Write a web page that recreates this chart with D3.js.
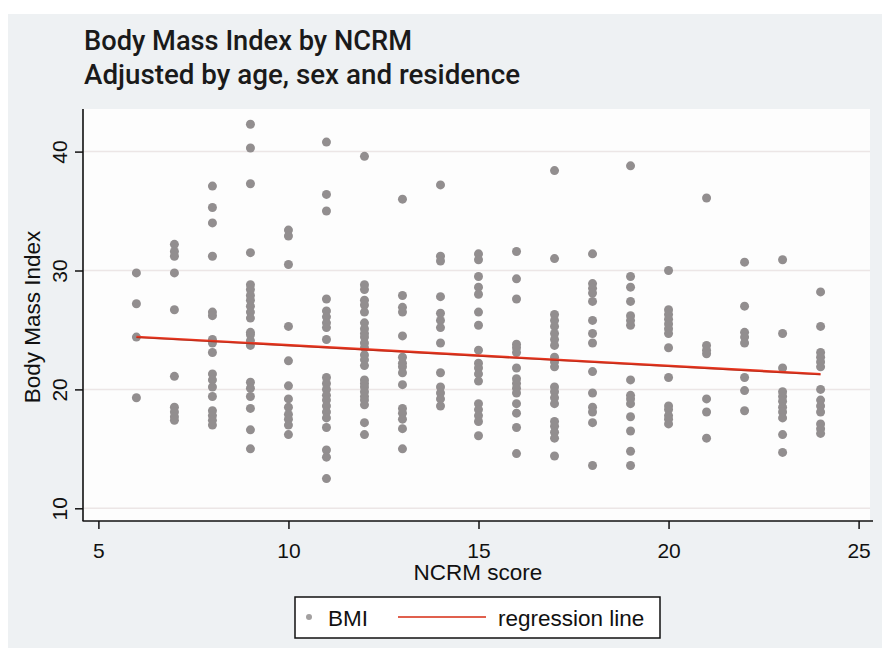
<!DOCTYPE html>
<html>
<head>
<meta charset="utf-8">
<script src="https://cdn.jsdelivr.net/npm/d3@7/dist/d3.min.js"></script>
<style>
  html, body { margin: 0; padding: 0; background: #ffffff; }
  svg { display: block; }
</style>
</head>
<body>
<svg id="chart" width="882" height="659"></svg>
<script>
// NCRM score categories (x positions of the point columns)
const ncrmScores = [6, 7, 8, 9, 10, 11, 12, 13, 14, 15, 16, 17, 18, 19, 20, 21, 22, 23, 24];

// Adjusted BMI observations, one list per NCRM score above
const bmiByScore = [
  [29.8, 27.2, 24.4, 19.3],
  [32.2, 31.6, 31.2, 29.8, 26.7, 21.1, 18.5, 18.1, 17.7, 17.4],
  [37.1, 35.3, 34.0, 31.2, 26.5, 26.2, 24.2, 23.9, 23.1, 21.3, 20.8, 20.2, 19.4, 18.2, 17.8, 17.4, 17.0],
  [42.3, 40.3, 37.3, 31.5, 28.8, 28.4, 27.9, 27.5, 27.0, 26.5, 26.0, 24.8, 24.6, 24.1, 23.7, 20.6, 20.1, 19.4, 18.4, 16.6, 15.0],
  [33.4, 32.9, 30.5, 25.3, 22.4, 20.3, 19.2, 18.5, 17.9, 17.5, 17.0, 16.2],
  [40.8, 36.4, 35.0, 27.6, 26.6, 26.1, 25.6, 25.2, 24.2, 21.0, 20.5, 20.0, 19.5, 19.1, 18.6, 18.1, 17.6, 16.8, 14.9, 14.3, 12.5],
  [39.6, 28.8, 28.4, 27.5, 27.1, 26.5, 25.6, 25.1, 24.7, 24.4, 23.9, 23.5, 22.9, 22.5, 22.0, 20.8, 20.5, 20.2, 19.8, 19.4, 19.1, 18.7, 17.2, 16.2],
  [36.0, 27.9, 26.9, 26.5, 24.5, 22.7, 22.2, 21.9, 21.4, 20.4, 18.4, 18.0, 17.5, 16.7, 15.0],
  [37.2, 31.2, 30.8, 27.8, 26.4, 25.8, 25.2, 23.9, 21.4, 20.2, 19.7, 19.2, 18.6],
  [31.4, 30.9, 29.5, 28.6, 28.0, 26.5, 25.4, 23.3, 22.2, 21.8, 21.3, 20.7, 18.8, 18.3, 17.8, 17.3, 16.1],
  [31.6, 29.3, 27.6, 23.8, 23.5, 23.1, 21.8, 20.9, 20.5, 20.1, 19.7, 18.8, 18.0, 16.8, 14.6],
  [38.4, 31.0, 26.3, 25.8, 25.3, 24.7, 24.2, 23.7, 22.7, 22.3, 21.9, 20.2, 19.8, 19.3, 18.8, 17.3, 16.9, 16.4, 15.9, 14.4],
  [31.4, 28.9, 28.5, 28.1, 27.4, 25.8, 24.7, 23.9, 21.5, 19.7, 18.5, 18.1, 17.2, 13.6],
  [38.8, 29.5, 28.6, 27.4, 26.2, 25.8, 25.4, 20.8, 19.5, 19.2, 18.8, 17.7, 16.5, 14.8, 13.6],
  [30.0, 26.7, 26.3, 25.9, 25.5, 25.1, 24.7, 23.5, 21.0, 18.6, 18.3, 17.8, 17.5, 17.1],
  [36.1, 23.7, 23.3, 23.0, 19.2, 18.1, 15.9],
  [30.7, 27.0, 24.8, 24.4, 23.9, 21.0, 19.9, 18.2],
  [30.9, 24.7, 21.8, 19.8, 19.4, 19.0, 18.5, 18.1, 17.6, 16.2, 14.7],
  [28.2, 25.3, 23.1, 22.7, 22.3, 21.9, 20.0, 19.1, 18.6, 18.1, 17.1, 16.7, 16.3]
];

// Fitted regression line: BMI = intercept + slope * NCRM
const regIntercept = 25.46;
const regSlope = -0.174;
const regRange = [6, 24];

// Axis ticks
const xTicks = [5, 10, 15, 20, 25];
const yTicks = [10, 20, 30, 40];

// Texts
const titleLines = ["Body Mass Index by NCRM", "Adjusted by age, sex and residence"];
const xTitle = "NCRM score";
const yTitle = "Body Mass Index";
const legendLabels = ["BMI", "regression line"];

const svg = d3.select("#chart");
const axisFont = "'Liberation Sans', Arial, Helvetica, sans-serif";

// Outer panel and plot region
const plot = { left: 83, right: 870, top: 109, bottom: 521 };

svg.append("rect")
  .attr("x", 8).attr("y", 14).attr("width", 874).attr("height", 634)
  .attr("fill", "#eef1f3");

svg.append("rect")
  .attr("x", plot.left).attr("y", plot.top)
  .attr("width", plot.right - plot.left).attr("height", plot.bottom - plot.top)
  .attr("fill", "#fdfdfd");

// Scales
const x = d3.scaleLinear().domain([5, 25]).range([98.4, 858.6]);
const y = d3.scaleLinear().domain([10, 40]).range([508.3, 151.6]);

// Horizontal grid lines
svg.append("g")
  .selectAll("line")
  .data(yTicks)
  .join("line")
  .attr("x1", plot.left + 1).attr("x2", plot.right)
  .attr("y1", d => y(d)).attr("y2", d => y(d))
  .attr("stroke", "#ece6e6").attr("stroke-width", 1.5);

// Points
const points = ncrmScores.flatMap((s, i) => bmiByScore[i].map(v => ({ s, v })));
svg.append("g")
  .selectAll("circle")
  .data(points)
  .join("circle")
  .attr("cx", d => x(d.s))
  .attr("cy", d => y(d.v))
  .attr("r", 4.5)
  .attr("fill", "#928e8f");

// Regression line
const regLine = d3.line().x(d => x(d)).y(d => y(regIntercept + regSlope * d));
svg.append("path")
  .attr("d", regLine(regRange))
  .attr("fill", "none")
  .attr("stroke", "#e8361f")
  .attr("stroke-width", 2.4);
svg.append("path")
  .attr("d", regLine(regRange))
  .attr("fill", "none")
  .attr("stroke", "#9a2416")
  .attr("stroke-width", 0.6)
  .attr("transform", "translate(0,0.7)");

// X axis
const xAxis = svg.append("g")
  .attr("transform", `translate(0,${plot.bottom})`)
  .call(d3.axisBottom(x).tickValues(xTicks).tickSize(8).tickPadding(4).tickFormat(d3.format("d")));
xAxis.select(".domain").remove();
xAxis.selectAll(".tick line").attr("stroke", "#111").attr("stroke-width", 1.5);
xAxis.selectAll(".tick text")
  .attr("font-family", axisFont).attr("font-size", 21).attr("fill", "#111")
  .attr("dy", null).attr("y", 37);

// Y axis
const yAxis = svg.append("g")
  .attr("transform", `translate(${plot.left},0)`)
  .call(d3.axisLeft(y).tickValues(yTicks).tickSize(8).tickFormat(d3.format("d")));
yAxis.select(".domain").remove();
yAxis.selectAll(".tick line").attr("stroke", "#111").attr("stroke-width", 1.5);
yAxis.selectAll(".tick text")
  .attr("font-family", axisFont).attr("font-size", 21).attr("fill", "#111")
  .attr("text-anchor", "middle")
  .attr("dy", null)
  .attr("x", 0).attr("y", -16)
  .attr("transform", "rotate(-90)");

// Axis lines
svg.append("line")
  .attr("x1", plot.left - 0.5).attr("x2", 873)
  .attr("y1", plot.bottom).attr("y2", plot.bottom)
  .attr("stroke", "#111").attr("stroke-width", 1.6);
svg.append("line")
  .attr("x1", plot.left).attr("x2", plot.left)
  .attr("y1", plot.top).attr("y2", plot.bottom)
  .attr("stroke", "#111").attr("stroke-width", 1.6);

// Axis titles
svg.append("text")
  .attr("x", 478).attr("y", 580)
  .attr("text-anchor", "middle")
  .attr("font-family", axisFont).attr("font-size", 22.5).attr("fill", "#111")
  .text(xTitle);

svg.append("text")
  .attr("transform", `translate(40,${(plot.top + plot.bottom) / 2 + 2}) rotate(-90)`)
  .attr("text-anchor", "middle")
  .attr("font-family", axisFont).attr("font-size", 22.5).attr("fill", "#111")
  .text(yTitle);

// Title block
const titleWidths = [328, 436];
svg.append("g")
  .selectAll("text")
  .data(titleLines)
  .join("text")
  .attr("x", 84)
  .attr("y", (d, i) => 50 + i * 34)
  .attr("font-family", "Roboto, 'Noto Sans', sans-serif")
  .attr("font-weight", 500)
  .attr("font-size", 27)
  .attr("fill", "#1a1a1a")
  .attr("textLength", (d, i) => titleWidths[i])
  .attr("lengthAdjust", "spacingAndGlyphs")
  .text(d => d);

// Legend
const legend = svg.append("g");
legend.append("rect")
  .attr("x", 295).attr("y", 597).attr("width", 365).attr("height", 41)
  .attr("fill", "#ffffff").attr("stroke", "#111").attr("stroke-width", 1.5);
legend.append("circle")
  .attr("cx", 309).attr("cy", 617).attr("r", 3)
  .attr("fill", "#a3a0a0");
legend.append("text")
  .attr("x", 328).attr("y", 626)
  .attr("font-family", axisFont).attr("font-size", 22.5).attr("fill", "#111")
  .text(legendLabels[0]);
legend.append("line")
  .attr("x1", 398).attr("x2", 486).attr("y1", 617).attr("y2", 617)
  .attr("stroke", "#e0604e").attr("stroke-width", 2);
legend.append("text")
  .attr("x", 498).attr("y", 626)
  .attr("font-family", axisFont).attr("font-size", 22.5).attr("fill", "#111")
  .text(legendLabels[1]);
</script>
</body>
</html>
